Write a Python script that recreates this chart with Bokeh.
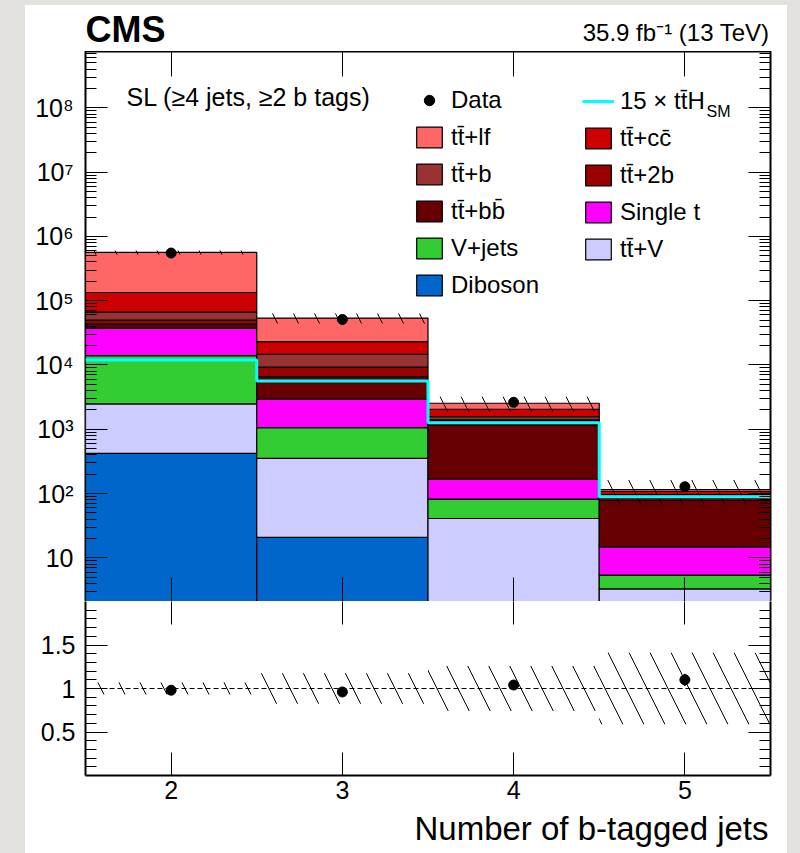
from bokeh.plotting import figure
from bokeh.models import (Range1d, FixedTicker, LinearAxis, LogAxis, Label, Legend, LegendItem,
                          CustomJSTickFormatter, Span, GlobalInlineStyleSheet)
from bokeh.layouts import column
from bokeh.embed import file_html
from bokeh.resources import INLINE

# ---------------- data ----------------
bin_centers = [2, 3, 4, 5]
bin_low = [1.5, 2.5, 3.5, 4.5]
bin_high = [2.5, 3.5, 4.5, 5.5]

# stacked backgrounds, bottom to top
diboson = [423, 20.8, 0.5, 0.3]
ttV = [2054, 332, 40.5, 3.0]
vjets = [11500, 707, 41, 2.1]
single_t = [23400, 1870, 84, 9.4]
ttbb = [5800, 3670, 1004, 64]
tt2b = [6700, 2640, 230, 8]
ttb = [16500, 5460, 170, 10]
ttcc = [67600, 8400, 480, 12]
ttlf = [429000, 30500, 490, 7]

tth_x15 = [12000, 5650, 1270, 89]
data = [551000, 51000, 2630, 128]

ratio = [0.98, 0.96, 1.04, 1.10]
ratio_err = [0.002, 0.005, 0.02, 0.07]
syst_unc = [0.07, 0.175, 0.26, 0.41]

x_tick_values = [2, 3, 4, 5]
y_tick_values = [1e1, 1e2, 1e3, 1e4, 1e5, 1e6, 1e7, 1e8]
y_tick_labels = ["10", "10²", "10³", "10⁴", "10⁵", "10⁶", "10⁷", "10⁸"]
r_tick_values = [0.5, 1.0, 1.5]
r_tick_labels = ["0.5", "1", "1.5"]

TT = "tt\u0304"
process_names = ["Diboson", TT + "+V", "V+jets", "Single t", TT + "+bb\u0304",
                 TT + "+2b", TT + "+b", TT + "+cc\u0304", TT + "+lf"]
process_values = [diboson, ttV, vjets, single_t, ttbb, tt2b, ttb, ttcc, ttlf]
process_colors = ["#0066cc", "#ccccff", "#33cc33", "#ff00ff", "#660000",
                  "#990000", "#993333", "#cc0000", "#ff6666"]

FONT = "Liberation Sans"
W = 762

blank_fmt = CustomJSTickFormatter(code="return '';")


def style_axis(ax, major_in, minor_in=0, labels=True, size="25px", standoff=8, line=False):
    ax.axis_line_color = "black" if line else None
    ax.axis_line_width = 2
    ax.major_tick_in = major_in
    ax.major_tick_out = 0
    ax.minor_tick_in = minor_in
    ax.minor_tick_out = 0
    ax.major_tick_line_color = "black"
    ax.minor_tick_line_color = "black"
    ax.major_tick_line_width = 1
    ax.minor_tick_line_width = 1
    if labels:
        ax.major_label_text_font = FONT
        ax.major_label_text_font_size = size
        ax.major_label_text_color = "black"
        ax.major_label_standoff = standoff
    else:
        ax.formatter = blank_fmt
        ax.major_label_text_font_size = "1px"
        ax.major_label_standoff = 0


def text_fig(height):
    f = figure(width=W, height=height, x_range=Range1d(0, 1), y_range=Range1d(0, 1),
               output_backend="svg", toolbar_location=None, min_border=0,
               min_border_left=60, min_border_right=17,
               x_axis_location=None, y_axis_location=None,
               background_fill_color="white", border_fill_color="white")
    f.grid.visible = False
    f.outline_line_color = None
    f.add_layout(Span(location=0, dimension="height", line_color="white", line_width=4))
    return f


def label(fig, x, y, text, size, align="left", bold=False):
    fig.add_layout(Label(x=x, y=y, x_units="screen", y_units="screen", text=text,
                         text_font=FONT, text_font_size=size, text_color="black",
                         text_font_style="bold" if bold else "normal",
                         text_baseline="middle", text_align=align))


# ---------------- header (CMS, lumi) ----------------
head = text_fig(46)
label(head, 0, 21.6, "CMS", "36px", bold=True)
label(head, 684, 19, "35.9 fb⁻¹ (13 TeV)", "24px", align="right")

# ---------------- main panel ----------------
p = figure(width=W, height=550, x_range=Range1d(1.5, 5.5), y_range=Range1d(2.1, 7.5e8),
           y_axis_type="log", output_backend="svg", toolbar_location=None,
           min_border_left=60, min_border_right=17, min_border_top=0, min_border_bottom=0,
           background_fill_color="white", border_fill_color="white")
p.grid.visible = False
p.outline_line_color = "black"
p.outline_line_width = 2

y_minor = [m * d / 10 for d in [1e1] + y_tick_values for m in range(2, 10)] + \
          [m * 1e8 for m in range(2, 10)]
y_ticker = FixedTicker(ticks=y_tick_values, minor_ticks=y_minor)
x_ticker = FixedTicker(ticks=x_tick_values, minor_ticks=[])
y_fmt = CustomJSTickFormatter(args=dict(vals=y_tick_values, labs=y_tick_labels), code="""
const i = vals.findIndex(v => Math.abs(v - tick) <= 1e-6 * Math.abs(v));
return i >= 0 ? labs[i] : "";
""")

ly = p.yaxis[0]
ly.ticker = y_ticker
ly.formatter = y_fmt
style_axis(ly, 22, 11, True, "25px", 12)
ry = LogAxis(ticker=y_ticker)
style_axis(ry, 22, 11, False)
p.add_layout(ry, "right")

bx = p.xaxis[0]
bx.ticker = x_ticker
style_axis(bx, 24, 0, False)
tx = LinearAxis(ticker=x_ticker)
style_axis(tx, 25, 0, False)
p.add_layout(tx, "above")

# stack
bottom = [1e-3] * 4
renderers = {}
for name, vals, col in zip(process_names, process_values, process_colors):
    top = [b + v for b, v in zip(bottom, vals)]
    renderers[name] = p.quad(left=bin_low, right=bin_high, bottom=bottom, top=top,
                             fill_color=col, line_color="black", line_width=1.2)
    bottom = top
total = bottom

# uncertainty hatch
p.quad(left=bin_low, right=bin_high,
       bottom=[t * (1 - s) for t, s in zip(total, syst_unc)],
       top=[t * (1 + s) for t, s in zip(total, syst_unc)],
       fill_color=None, line_color=None, hatch_pattern="\\", hatch_color="black",
       hatch_weight=1, hatch_scale=42)

# signal x15
step_r = p.step(x=bin_low + [bin_high[-1]], y=tth_x15 + [tth_x15[-1]], mode="after",
                line_color="#00ffff", line_width=3)

# data
data_r = p.scatter(x=bin_centers, y=data, size=10, marker="circle",
                   fill_color="black", line_color="black")

label(p, 41, 505, "SL (≥4 jets, ≥2 b tags)", "25px")
label(p, 621, 490.5, "SM", "16px")

col1 = [LegendItem(label="Data", renderers=[data_r])] + \
       [LegendItem(label=n, renderers=[renderers[n]]) for n in
        [TT + "+lf", TT + "+b", TT + "+bb\u0304", "V+jets", "Diboson"]]
col2 = [LegendItem(label="15 × " + TT + "H", renderers=[step_r])] + \
       [LegendItem(label=n, renderers=[renderers[n]]) for n in
        [TT + "+cc\u0304", TT + "+2b", "Single t", TT + "+V"]]

for items, loc in [(col1, (328, 302)), (col2, (497, 338.5))]:
    leg = Legend(items=items, location=loc, glyph_width=32, glyph_height=26,
                 label_standoff=6, spacing=9, padding=0, margin=0,
                 border_line_color=None, background_fill_alpha=0,
                 label_text_font=FONT, label_text_font_size="24px",
                 label_text_color="black")
    p.add_layout(leg)

# ---------------- ratio panel ----------------
r = figure(width=W, height=209, x_range=p.x_range, y_range=Range1d(0, 2),
           output_backend="svg", toolbar_location=None,
           min_border_left=60, min_border_right=17, min_border_top=0, min_border_bottom=35,
           background_fill_color="white", border_fill_color="white")
r.grid.visible = False
r.outline_line_color = None

r_ticker = FixedTicker(ticks=r_tick_values, minor_ticks=[round(0.1 * i, 1) for i in range(1, 20)])
r_fmt = CustomJSTickFormatter(args=dict(vals=r_tick_values, labs=r_tick_labels), code="""
const i = vals.findIndex(v => Math.abs(v - tick) <= 1e-6);
return i >= 0 ? labs[i] : "";
""")
rly = r.yaxis[0]
rly.ticker = r_ticker
rly.formatter = r_fmt
style_axis(rly, 22, 11, True, "25px", 10, line=True)
rry = LinearAxis(ticker=r_ticker)
style_axis(rry, 22, 11, False, line=True)
r.add_layout(rry, "right")

rbx = r.xaxis[0]
rbx.ticker = x_ticker
style_axis(rbx, 23, 0, True, "25px", 5, line=True)
rtx = LinearAxis(ticker=x_ticker)
style_axis(rtx, 23, 0, False)
r.add_layout(rtx, "above")

r.quad(left=bin_low, right=bin_high,
       bottom=[1 - s for s in syst_unc], top=[1 + s for s in syst_unc],
       fill_color=None, line_color=None, hatch_pattern="\\", hatch_color="black",
       hatch_weight=1, hatch_scale=42)
r.add_layout(Span(location=1, dimension="width", line_color="black",
                  line_dash="5 3", line_width=1))
r.segment(x0=bin_centers, x1=bin_centers,
          y0=[v - e for v, e in zip(ratio, ratio_err)],
          y1=[v + e for v, e in zip(ratio, ratio_err)], line_color="black", line_width=1.5)
r.scatter(x=bin_centers, y=ratio, size=10, marker="circle",
          fill_color="black", line_color="black")

# ---------------- footer (x-axis title) ----------------
foot = text_fig(42)
label(foot, 683, 24.5, "Number of b-tagged jets", "33px", align="right")

css = GlobalInlineStyleSheet(css=(
    "body { margin: 0px; overflow: hidden; "
    "background: linear-gradient(#ffffff, #ffffff) 25px 5px / 762px 848px no-repeat, #e2e1de; }"))
layout = column(head, p, r, foot, margin=(5, 0, 0, 25), stylesheets=[css])

open("out.html", "w").write(file_html(layout, INLINE))
